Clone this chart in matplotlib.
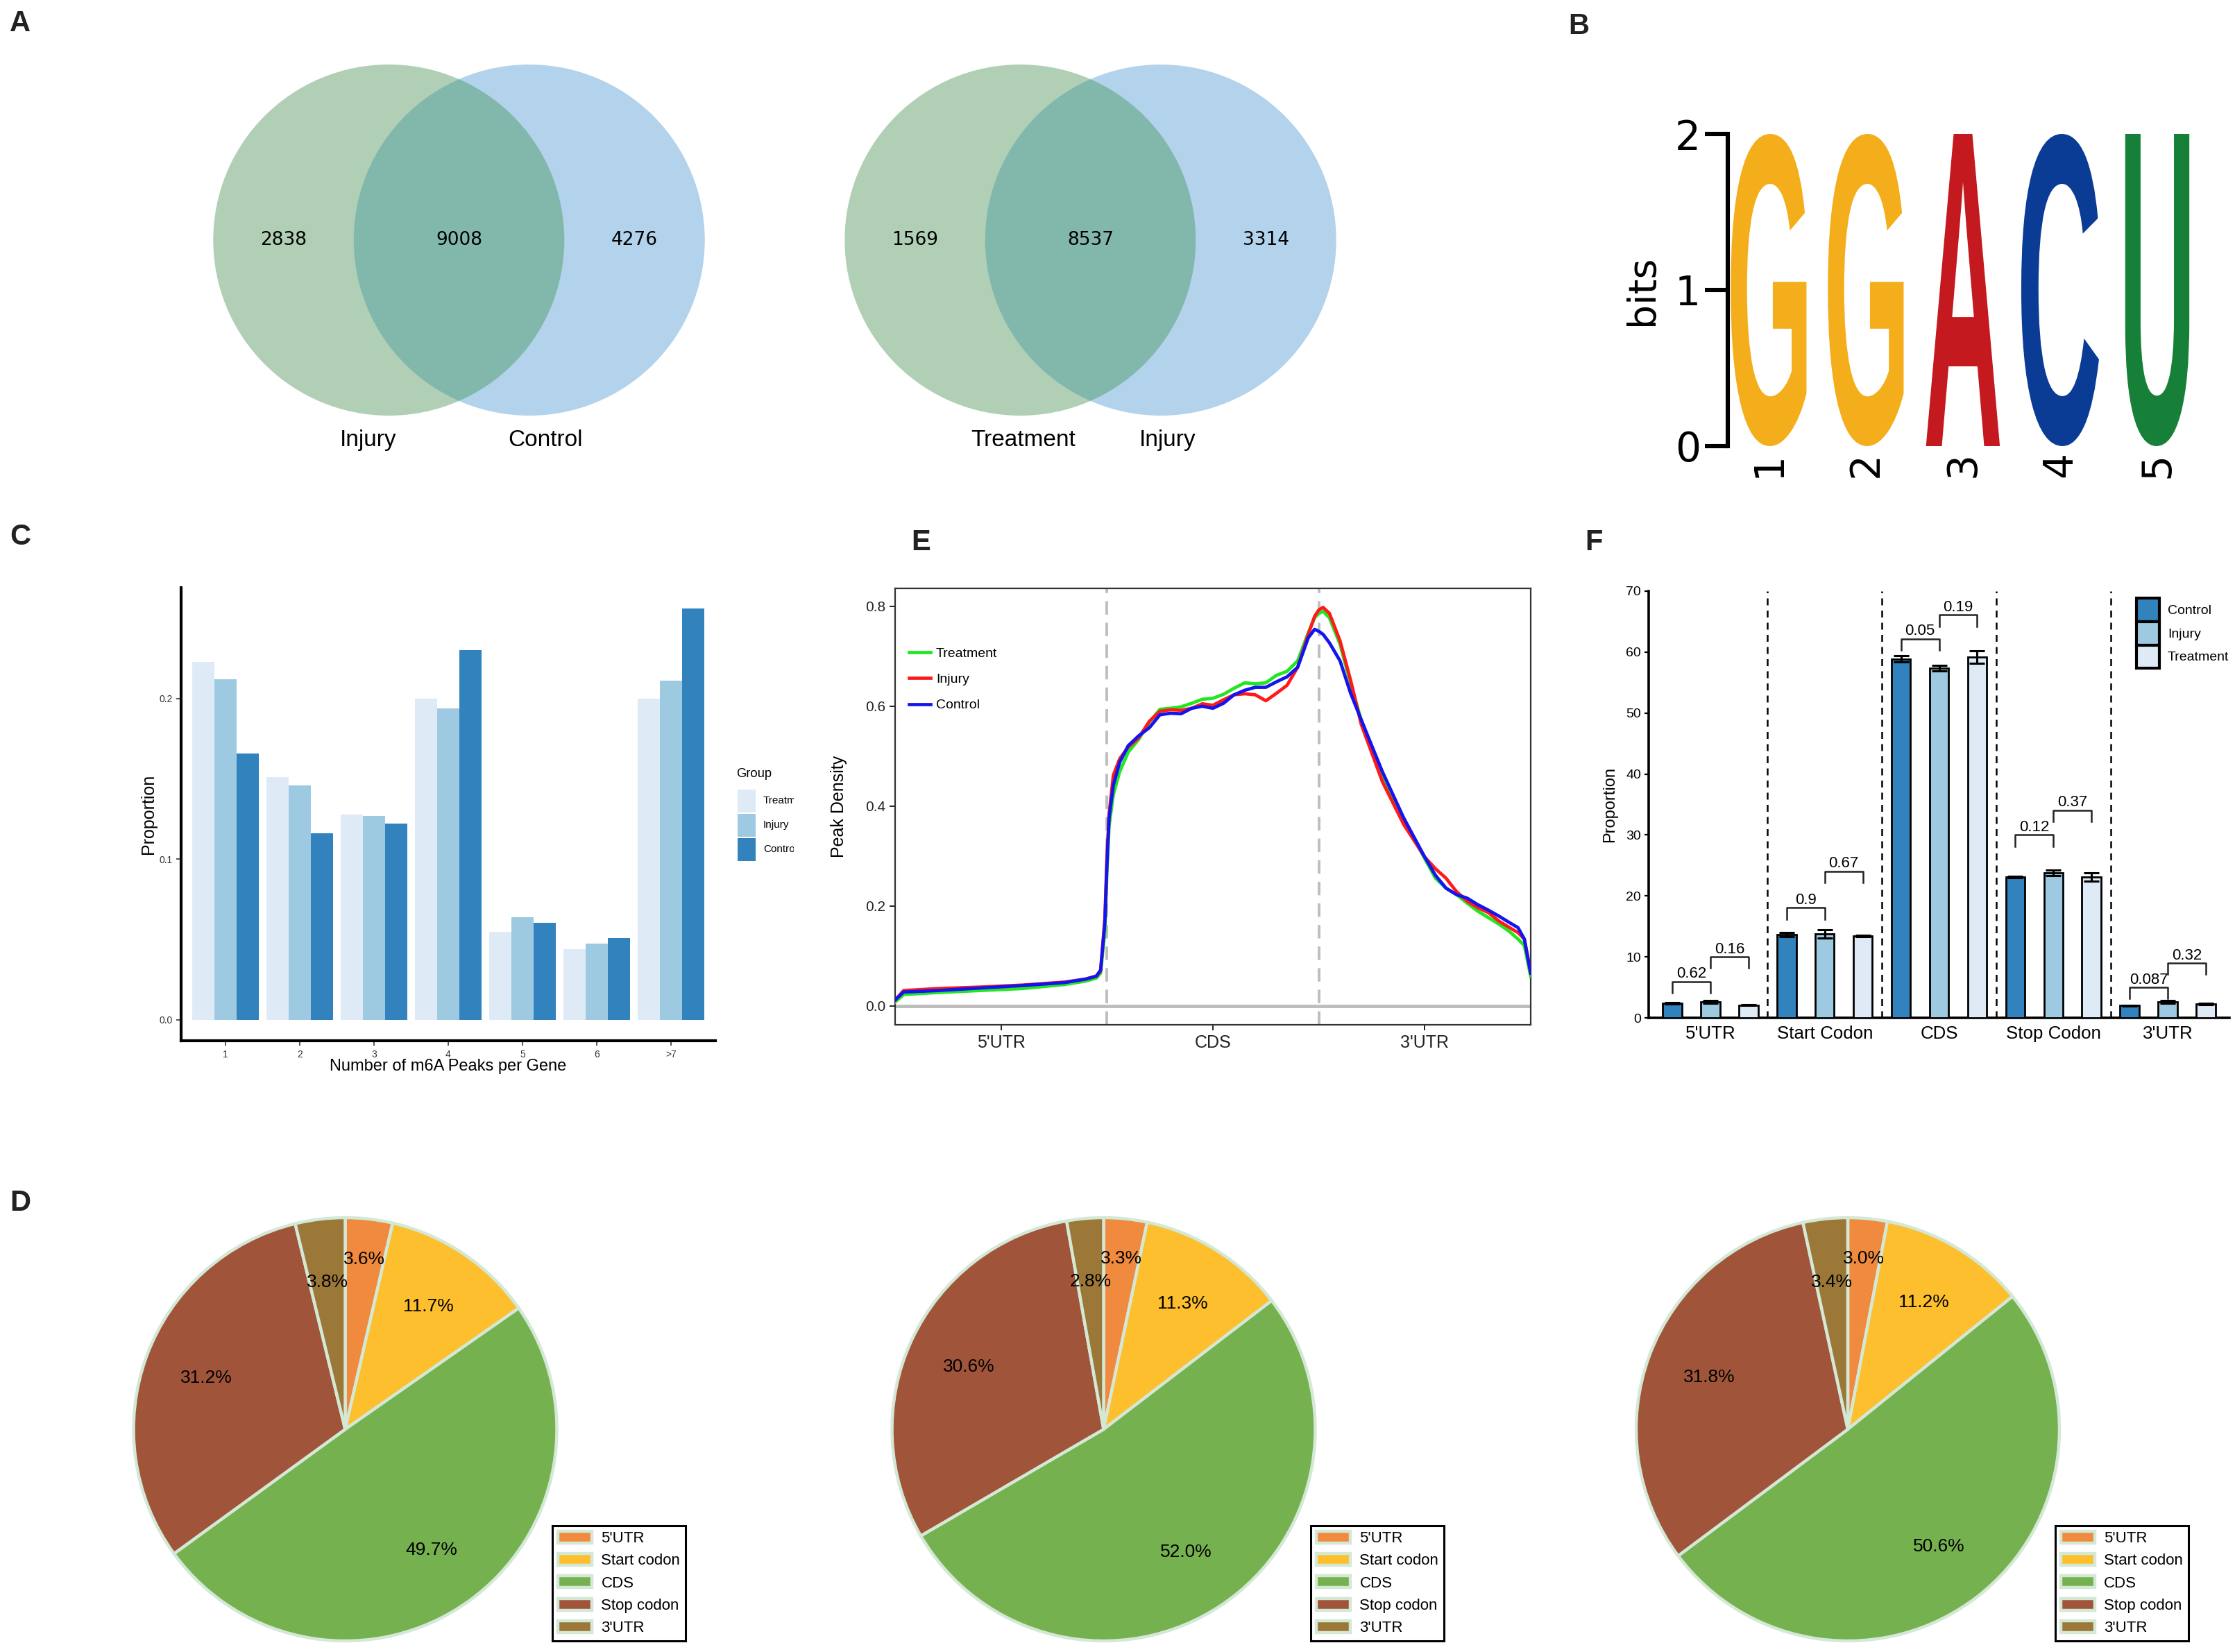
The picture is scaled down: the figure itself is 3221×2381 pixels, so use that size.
import numpy as np
import matplotlib
matplotlib.use("Agg")
import matplotlib.pyplot as plt
import matplotlib.transforms as mtransforms
from matplotlib.patches import Circle, Rectangle, PathPatch, Patch
from matplotlib.textpath import TextPath
from matplotlib.font_manager import FontProperties

plt.rcParams['font.family'] = ['Liberation Sans', 'DejaVu Sans']

# -----------------------------------------
# Data
# -----------------------------------------
# A: Venn diagrams (left only, shared, right only)
venn1_names = ["Injury", "Control"]
venn1_counts = [2838, 9008, 4276]
venn2_names = ["Treatment", "Injury"]
venn2_counts = [1569, 8537, 3314]

# B: motif logo
motif_letters = ["G", "G", "A", "C", "U"]
motif_bits = [2.0, 2.0, 2.0, 2.0, 2.0]

# C: number of m6A peaks per gene
peak_bins = ["1", "2", "3", "4", "5", "6", ">7"]
prop_treatment = [0.223, 0.151, 0.128, 0.200, 0.055, 0.044, 0.200]
prop_injury = [0.212, 0.146, 0.127, 0.194, 0.064, 0.0475, 0.211]
prop_control = [0.166, 0.116, 0.122, 0.230, 0.0605, 0.051, 0.256]

# E: metagene peak density
density_x = [0.0, 0.04, 0.2, 0.4, 0.6, 0.8, 0.9, 0.95, 0.97, 0.99, 1.0, 1.01,
             1.03, 1.06, 1.1, 1.15, 1.2, 1.25, 1.3, 1.35, 1.4, 1.45, 1.5, 1.55,
             1.6, 1.65, 1.7, 1.75, 1.8, 1.85, 1.9, 1.95, 1.98, 2.0, 2.02, 2.05,
             2.1, 2.15, 2.2, 2.3, 2.4, 2.5, 2.55, 2.6, 2.65, 2.7, 2.75, 2.8,
             2.85, 2.9, 2.94, 2.97, 3.0]
density_treatment = [0.008, 0.023, 0.027, 0.031, 0.035, 0.043, 0.050, 0.056,
                     0.066, 0.150, 0.270, 0.360, 0.423, 0.469, 0.508, 0.534,
                     0.568, 0.594, 0.596, 0.599, 0.606, 0.614, 0.616, 0.624,
                     0.636, 0.647, 0.645, 0.647, 0.662, 0.670, 0.691, 0.747,
                     0.777, 0.786, 0.790, 0.777, 0.724, 0.645, 0.573, 0.462,
                     0.374, 0.295, 0.256, 0.236, 0.223, 0.206, 0.190, 0.177,
                     0.164, 0.149, 0.134, 0.121, 0.059]
density_injury = [0.012, 0.031, 0.035, 0.038, 0.042, 0.048, 0.054, 0.060,
                  0.070, 0.175, 0.300, 0.385, 0.462, 0.495, 0.518, 0.537,
                  0.570, 0.590, 0.593, 0.592, 0.596, 0.605, 0.602, 0.613,
                  0.623, 0.625, 0.623, 0.611, 0.626, 0.642, 0.678, 0.744,
                  0.780, 0.793, 0.798, 0.786, 0.731, 0.652, 0.564, 0.449,
                  0.364, 0.298, 0.275, 0.256, 0.229, 0.210, 0.197, 0.187,
                  0.170, 0.157, 0.147, 0.134, 0.066]
density_control = [0.012, 0.028, 0.031, 0.036, 0.041, 0.047, 0.054, 0.060,
                   0.072, 0.167, 0.285, 0.377, 0.442, 0.488, 0.521, 0.541,
                   0.557, 0.583, 0.586, 0.585, 0.596, 0.600, 0.596, 0.606,
                   0.623, 0.632, 0.638, 0.638, 0.649, 0.659, 0.678, 0.737,
                   0.754, 0.750, 0.744, 0.727, 0.691, 0.626, 0.573, 0.469,
                   0.377, 0.298, 0.262, 0.236, 0.223, 0.216, 0.203, 0.192,
                   0.180, 0.167, 0.157, 0.134, 0.066]
density_ticks = ["5'UTR", "CDS", "3'UTR"]

# F: peak distribution per region (mean, error)
regions = ["5'UTR", "Start Codon", "CDS", "Stop Codon", "3'UTR"]
region_control = [2.42, 13.65, 58.9, 23.1, 2.04]
region_injury = [2.63, 13.8, 57.33, 23.8, 2.63]
region_treatment = [2.1, 13.43, 59.16, 23.1, 2.31]
err_control = [0.1, 0.3, 0.5, 0.15, 0.05]
err_injury = [0.25, 0.7, 0.45, 0.43, 0.2]
err_treatment = [0.1, 0.15, 1.05, 0.72, 0.1]
p_ctrl_inj = ["0.62", "0.9", "0.05", "0.12", "0.087"]
p_inj_trt = ["0.16", "0.67", "0.19", "0.37", "0.32"]
bracket_ctrl_inj = [5.96, 18.05, 62.2, 30.0, 5.0]
bracket_inj_trt = [10.0, 24.07, 66.1, 34.07, 8.97]

# D: pie charts
pie_labels = ["5'UTR", "Start codon", "CDS", "Stop codon", "3'UTR"]
pie_values = [
    [3.6, 11.7, 49.7, 31.2, 3.8],
    [3.3, 11.3, 52.0, 30.6, 2.8],
    [3.0, 11.2, 50.6, 31.8, 3.4],
]

# -----------------------------------------
# Styles
# -----------------------------------------
W, H, DPI = 3221, 2381, 200
BLUES = {"Treatment": "#deebf7", "Injury": "#9ecae1", "Control": "#3182bd"}
LINE_COLORS = {"Treatment": "#22e622", "Injury": "#ff1a1a", "Control": "#1414ee"}
LOGO_COLORS = {"G": "#f4ae1b", "A": "#c4191f", "C": "#0a3c96", "U": "#168038"}
LOGO_WIDTHS = {"G": 0.78, "A": 0.76, "C": 0.80, "U": 0.66}
PIE_COLORS = ["#f08a3e", "#fdbf2d", "#76b150", "#a0553a", "#9c7838"]
PIE_EDGE = "#d4e8d6"

fig = plt.figure(figsize=(W / DPI, H / DPI), dpi=DPI)


def px_axes(x0, y0, x1, y1):
    # axes from a pixel box (top-left origin)
    return fig.add_axes([x0 / W, 1 - y1 / H, (x1 - x0) / W, (y1 - y0) / H])


def panel_label(x, y, s):
    fig.text(x / W, 1 - y / H, s, fontsize=15, fontweight='bold',
             ha='left', va='top', color='#222222')


# -----------------------------------------
# A: Venn diagrams
# -----------------------------------------
def draw_venn(cx, cy, names, counts):
    s = 253.0
    ax = px_axes(cx - 1.45 * s, cy - 1.1 * s, cx + 1.45 * s, cy + 1.35 * s)
    ax.set_xlim(-1.45, 1.45)
    ax.set_ylim(-1.35, 1.1)
    ax.axis('off')
    d = 0.4
    left = Circle((-d, 0), 1, facecolor="#b0cfb5", edgecolor='none')
    right = Circle((d, 0), 1, facecolor="#b3d3ec", edgecolor='none')
    ax.add_patch(left)
    ax.add_patch(right)
    mid = Circle((-d, 0), 1, facecolor="#82b8ab", edgecolor='none')
    ax.add_patch(mid)
    mid.set_clip_path(right)
    for xpos, c in zip([-1.0, 0.0, 1.0], counts):
        ax.text(xpos, 0, str(c), ha='center', va='center', fontsize=9.5,
                family='DejaVu Sans')
    ax.text(-0.68, -1.14, names[0], ha='left', va='center', fontsize=12)
    ax.text(0.28, -1.14, names[1], ha='left', va='center', fontsize=12)


draw_venn(661.5, 346, venn1_names, venn1_counts)
draw_venn(1571.5, 346, venn2_names, venn2_counts)

# -----------------------------------------
# B: sequence logo
# -----------------------------------------
axb = px_axes(2490, 193, 3179, 643)
axb.set_xlim(0.58, 5.5)
axb.set_ylim(0, 2)
logo_font = FontProperties(family='Liberation Sans', weight='bold')
for i, (letter, bits) in enumerate(zip(motif_letters, motif_bits)):
    tp = TextPath((0, 0), letter, size=1, prop=logo_font)
    bb = tp.get_extents()
    wl = LOGO_WIDTHS[letter]
    tr = (mtransforms.Affine2D()
          .translate(-bb.x0, -bb.y0)
          .scale(wl / bb.width, bits / bb.height)
          .translate(i + 1 - wl / 2, 0))
    axb.add_patch(PathPatch(tr.transform_path(tp), facecolor=LOGO_COLORS[letter],
                            edgecolor='none'))
for side in ['top', 'right', 'bottom']:
    axb.spines[side].set_visible(False)
axb.spines['left'].set_linewidth(2.2)
axb.spines['left'].set_bounds(0, 2)
axb.set_yticks([0, 1, 2])
axb.set_yticklabels(["0", "1", "2"], family='DejaVu Sans', fontsize=21)
axb.tick_params(axis='y', length=12, width=2.2, pad=2)
axb.set_xticks(range(1, len(motif_letters) + 1))
axb.set_xticklabels([str(i) for i in range(1, len(motif_letters) + 1)],
                    rotation=90, family='DejaVu Sans', fontsize=21)
axb.tick_params(axis='x', length=0, pad=3)
axb.set_ylabel("bits", family='DejaVu Sans', fontsize=20)
axb.yaxis.set_label_coords(-0.14, 0.5)

# -----------------------------------------
# C: grouped bars
# -----------------------------------------
axc = px_axes(261, 847, 1031, 1500)
xc = np.arange(1, len(peak_bins) + 1)
bw = 0.3
group_names = ["Treatment", "Injury", "Control"]
for k, (name, vals) in enumerate(zip(group_names,
                                     [prop_treatment, prop_injury, prop_control])):
    axc.bar(xc + (k - 1) * bw, vals, width=bw, color=BLUES[name], edgecolor='none')
axc.set_xlim(0.4, 7.6)
axc.set_ylim(-0.013, 0.269)
axc.set_xticks(xc)
axc.set_xticklabels(peak_bins)
axc.set_yticks([0.0, 0.1, 0.2])
axc.set_yticklabels(["0.0", "0.1", "0.2"])
axc.tick_params(labelsize=5, length=2.5, width=0.6, colors='#333333', pad=2)
for side in ['top', 'right']:
    axc.spines[side].set_visible(False)
for side in ['left', 'bottom']:
    axc.spines[side].set_linewidth(1.5)
axc.set_xlabel("Number of m6A Peaks per Gene", fontsize=8.5)
axc.xaxis.set_label_coords(0.5, -0.04)
axc.set_ylabel("Proportion", fontsize=9)
axc.yaxis.set_label_coords(-0.045, 0.5)

# legend of C, clipped at the panel edge like the original
lax = px_axes(1055, 1095, 1144, 1250)
lax.set_xlim(1055, 1144)
lax.set_ylim(1250, 1095)
lax.axis('off')
lax.text(1061, 1116, "Group", fontsize=6.6, ha='left', va='center', clip_on=True)
for k, name in enumerate(group_names):
    top = 1138 + k * 35
    lax.add_patch(Rectangle((1063, top), 26, 33, facecolor=BLUES[name],
                            edgecolor='none'))
    lax.text(1100, top + 16.5, name, fontsize=5.5, ha='left', va='center',
             clip_on=True)

# -----------------------------------------
# E: metagene density
# -----------------------------------------
axe = px_axes(1290, 848, 2206, 1477)
axe.axhline(0, color='#bebebe', lw=1.8, zorder=1)
for xv in [1, 2]:
    axe.axvline(xv, color='#bebebe', lw=1.4, ls=(0, (5, 3)), zorder=1)
for name, ys in [("Treatment", density_treatment), ("Injury", density_injury),
                 ("Control", density_control)]:
    axe.plot(density_x, ys, color=LINE_COLORS[name], lw=1.7, label=name,
             solid_joinstyle='round', zorder=3)
axe.set_xlim(0, 3)
axe.set_ylim(-0.0375, 0.836)
axe.set_xticks([0.5, 1.5, 2.5])
axe.set_xticklabels(density_ticks, fontsize=9)
axe.set_yticks([0.0, 0.2, 0.4, 0.6, 0.8])
axe.set_yticklabels(["0.0", "0.2", "0.4", "0.6", "0.8"], fontsize=7.5)
axe.tick_params(length=3, width=0.7, colors='#222222', pad=2)
for sp in axe.spines.values():
    sp.set_linewidth(0.8)
    sp.set_color('#333333')
axe.set_ylabel("Peak Density", fontsize=9)
axe.yaxis.set_label_coords(-0.075, 0.5)
axe.legend(loc='upper left', bbox_to_anchor=(0.022, 0.865), frameon=False,
           fontsize=7, handlelength=1.6, handletextpad=0.4, labelspacing=1.02,
           borderpad=0, borderaxespad=0)

# -----------------------------------------
# F: region bars with error bars
# -----------------------------------------
axf = px_axes(2376, 852, 3213, 1467)
xf = np.arange(len(regions))
off = 1 / 3
fbw = 0.167
series_f = [("Control", region_control, err_control),
            ("Injury", region_injury, err_injury),
            ("Treatment", region_treatment, err_treatment)]
for k, (name, vals, errs) in enumerate(series_f):
    axf.bar(xf + (k - 1) * off, vals, width=fbw, color=BLUES[name],
            edgecolor='black', linewidth=1.0, yerr=errs, capsize=4,
            error_kw=dict(elinewidth=1.1, capthick=1.1, ecolor='black'), zorder=3)
for xv in xf[:-1] + 0.5:
    axf.axvline(xv, color='black', lw=0.9, ls=(0, (4, 3)), zorder=1)
leg = 1.85
for i in xf:
    for (x0, x1, yb, lab) in [(i - off, i, bracket_ctrl_inj[i], p_ctrl_inj[i]),
                              (i, i + off, bracket_inj_trt[i], p_inj_trt[i])]:
        axf.plot([x0, x0, x1, x1], [yb - leg, yb, yb, yb - leg], color='#222222',
                 lw=0.9, zorder=4)
        axf.text((x0 + x1) / 2, yb + 0.6, lab, ha='center', va='baseline',
                 fontsize=8)
axf.set_xlim(-0.54, 4.54)
axf.set_ylim(0, 70)
axf.set_yticks(range(0, 71, 10))
axf.set_xticks(xf)
axf.set_xticklabels(regions, fontsize=9.3)
axf.tick_params(axis='y', labelsize=7, length=2, width=0.8, pad=2)
axf.tick_params(axis='x', length=0, pad=4)
for side in ['top', 'right']:
    axf.spines[side].set_visible(False)
for side in ['left', 'bottom']:
    axf.spines[side].set_linewidth(1.3)
axf.set_ylabel("Proportion", fontsize=8.5)
axf.yaxis.set_label_coords(-0.054, 0.5)
handles = [Patch(facecolor=BLUES[n], edgecolor='black', linewidth=1.5)
           for n, _, _ in series_f]
axf.legend(handles, [n for n, _, _ in series_f], loc='upper left',
           bbox_to_anchor=(0.84, 0.984), frameon=False, fontsize=7,
           handlelength=1.7, handleheight=2.3, labelspacing=0, borderpad=0,
           borderaxespad=0, handletextpad=0.6)

# -----------------------------------------
# D: pie charts
# -----------------------------------------
pie_centers = [497.5, 1590.5, 2663.0]
r = 305
for cx, vals in zip(pie_centers, pie_values):
    axp = px_axes(cx - r, 2060 - r, cx + r, 2060 + r)
    wedges, texts, autotexts = axp.pie(
        vals, colors=PIE_COLORS, startangle=90, counterclock=False,
        autopct='%1.1f%%', pctdistance=0.7,
        wedgeprops=dict(edgecolor=PIE_EDGE, linewidth=1.6),
        textprops=dict(fontsize=9.5))
    # first small slice label sits a bit further out
    w0 = wedges[0]
    ang = np.deg2rad((w0.theta1 + w0.theta2) / 2)
    autotexts[0].set_position((0.81 * np.cos(ang), 0.81 * np.sin(ang)))
    axp.set_xlim(-1.0, 1.0)
    axp.set_ylim(-1.0, 1.0)
    lg = axp.legend(wedges, pie_labels, loc='lower left', bbox_to_anchor=(0.99, 0.0),
                    borderaxespad=0, fontsize=8, fancybox=False, framealpha=1,
                    edgecolor='black', handlelength=2.2, handleheight=0.8,
                    labelspacing=0.5, borderpad=0.35, handletextpad=0.6)
    lg.get_frame().set_linewidth(1.1)

# panel letters
panel_label(14, 14, "A")
panel_label(2260, 18, "B")
panel_label(14, 754, "C")
panel_label(1313, 762, "E")
panel_label(2284, 762, "F")
panel_label(14, 1714, "D")

fig.savefig("out.png", dpi=DPI)
